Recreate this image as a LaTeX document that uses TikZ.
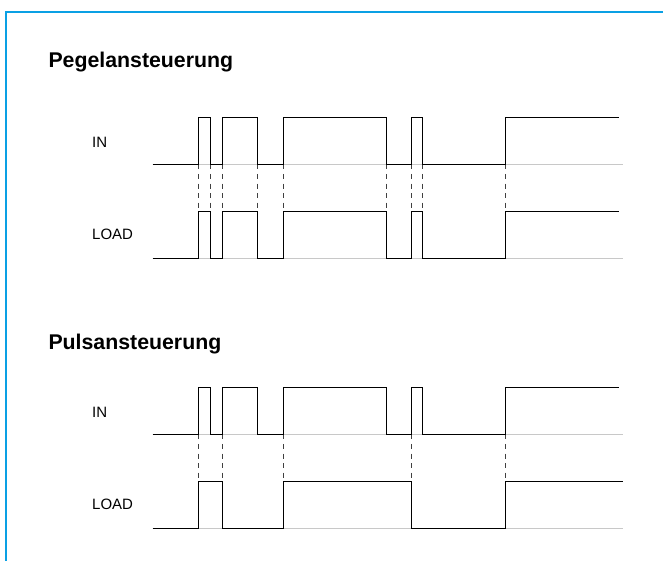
\documentclass[tikz,border=0pt]{standalone}
\usepackage{fontspec}
\setmainfont{Liberation Sans}
\definecolor{frameblue}{RGB}{10,160,228}
\definecolor{levelgray}{RGB}{200,200,200}
\begin{document}
\begin{tikzpicture}[x=1pt,y=-1pt,
  frameline/.style={draw=frameblue,line width=1.4pt},
  heading/.style={font=\fontsize{21.3}{24}\selectfont\bfseries,anchor=base west,inner sep=0pt},
  siglabel/.style={font=\fontsize{15}{18}\selectfont,anchor=base west,inner sep=0pt},
  zeroline/.style={draw=levelgray,line width=1.2pt},
  signal/.style={draw=black,line width=0.9pt,line join=miter},
  guide/.style={draw=black!75,line width=0.9pt,dash pattern=on 5pt off 4.6pt}]
\useasboundingbox (0,0) rectangle (663,560);

% open frame: the box runs on past the right and bottom page edges
\begin{scope}
\clip (0,0) rectangle (663,560);
\draw[frameline] (6,620) -- (6,12) -- (720,12);
\end{scope}

% signal levels (IN low/high, LOAD low/high)
\def\inlo{164.3}\def\inhi{117.3}
\def\ldlo{258.5}\def\ldhi{211.7}

%----------------------------------------------------------- level control
\node[heading] (head1) at (48.3,67.7) {Pegelansteuerung};
\node[siglabel] (in1)   at (92,147)   {IN};
\node[siglabel] (load1) at (92,239.3) {LOAD};

\draw[zeroline] (152.5,\inlo) -- (623,\inlo);
\draw[zeroline] (152.5,\ldlo) -- (623,\ldlo);

\foreach \t in {198.3,210,222,257.3,283,386.7,411.7,422.3,505}
  \draw[guide] (\t,\inlo) -- (\t,\ldhi);

\draw[signal] (152.5,\inlo) -| (198.3,\inhi) -| (210,\inlo) -| (222,\inhi)
  -| (257.3,\inlo) -| (283,\inhi) -| (386.7,\inlo) -| (411.7,\inhi)
  -| (422.3,\inlo) -| (505,\inhi) -- (619,\inhi);
\draw[signal] (152.5,\ldlo) -| (198.3,\ldhi) -| (210,\ldlo) -| (222,\ldhi)
  -| (257.3,\ldlo) -| (283,\ldhi) -| (386.7,\ldlo) -| (411.7,\ldhi)
  -| (422.3,\ldlo) -| (505,\ldhi) -- (619,\ldhi);

%----------------------------------------------------------- pulse control
\node[heading] (head2) at (48.3,349.5) {Pulsansteuerung};
\begin{scope}[shift={(0,270)}]
\node[siglabel] (in2)   at (92,147)   {IN};
\node[siglabel] (load2) at (92,239.3) {LOAD};

\draw[zeroline] (152.5,\inlo) -- (623,\inlo);
\draw[zeroline] (152.5,\ldlo) -- (623,\ldlo);

\foreach \t in {198.3,222,283,411.7,505}
  \draw[guide] (\t,\inlo) -- (\t,\ldhi);

\draw[signal] (152.5,\inlo) -| (198.3,\inhi) -| (210,\inlo) -| (222,\inhi)
  -| (257.3,\inlo) -| (283,\inhi) -| (386.7,\inlo) -| (411.7,\inhi)
  -| (422.3,\inlo) -| (505,\inhi) -- (619,\inhi);
\draw[signal] (152.5,\ldlo) -| (198.3,\ldhi) -| (222,\ldlo) -| (283,\ldhi)
  -| (411.7,\ldlo) -| (505,\ldhi) -- (623,\ldhi);
\end{scope}
\end{tikzpicture}
\end{document}
